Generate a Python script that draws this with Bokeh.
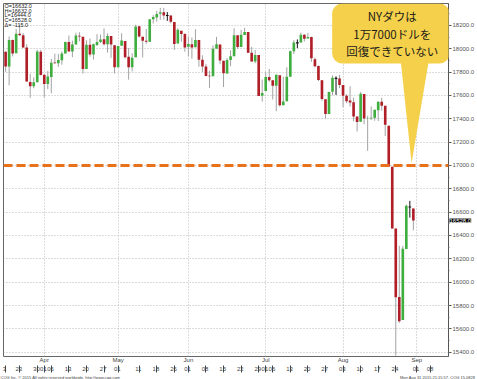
from bokeh.plotting import figure
from bokeh.models import (ColumnDataSource, Range1d, LinearAxis, FixedTicker, Span,
                          BoxAnnotation, PolyAnnotation, Label, NumeralTickFormatter)
from bokeh.core.properties import value
from bokeh.embed import file_html
from bokeh.resources import INLINE

# ---- data: DJIA daily OHLC, 2015 ----
dates = ["03-17","03-18","03-19","03-20","03-23","03-24","03-25","03-26","03-27","03-30","03-31",
         "04-01","04-02","04-06","04-07","04-08","04-09","04-10","04-13","04-14","04-15","04-16","04-17",
         "04-20","04-21","04-22","04-23","04-24","04-27","04-28","04-29","04-30",
         "05-01","05-04","05-05","05-06","05-07","05-08","05-11","05-12","05-13","05-14","05-15",
         "05-18","05-19","05-20","05-21","05-22","05-26","05-27","05-28","05-29",
         "06-01","06-02","06-03","06-04","06-05","06-08","06-09","06-10","06-11","06-12","06-15",
         "06-16","06-17","06-18","06-19","06-22","06-23","06-24","06-25","06-26","06-29","06-30",
         "07-01","07-02","07-06","07-07","07-08","07-09","07-10","07-13","07-14","07-15","07-16",
         "07-17","07-20","07-21","07-22","07-23","07-24","07-27","07-28","07-29","07-30","07-31",
         "08-03","08-04","08-05","08-06","08-07","08-10","08-11","08-12","08-13","08-14","08-17",
         "08-18","08-19","08-20","08-21","08-24","08-25","08-26","08-27","08-28","08-31"]
opens = [17975,17849,18076,17962,18128,18116,18012,17716,17678,17713,17974,
         17777,17698,17759,17882,17875,17902,17959,18058,17977,18037,18112,18102,
         17827,18035,17950,18033,18059,18081,18038,18110,18031,
         17841,18025,18067,17931,17842,17928,18192,18103,18069,18061,18253,
         18267,18300,18314,18285,18286,18229,18045,18154,18127,
         18018,18038,18013,18076,17905,17849,17768,17765,18001,18036,17897,
         17789,17904,17936,18116,18016,18119,18144,17967,17890,17946,17598,
         17638,17758,17730,17684,17774,17516,17550,17761,17978,18051,18053,
         18120,18088,18100,17911,17852,17731,17568,17441,17631,17748,17746,
         17690,17597,17556,17541,17419,17374,17613,17400,17402,17409,17474,
         17545,17511,17340,16990,16459,15872,15676,16285,16644,16632]
highs = [17977,18105,18080,18170,18206,18134,18040,17786,17755,17990,17992,
         17777,17811,17913,17958,17956,17976,18062,18114,18070,18137,18142,18102,
         18073,18088,18044,18125,18122,18175,18133,18110,18031,
         18025,18133,18067,18008,17961,18206,18193,18103,18170,18253,18289,
         18325,18351,18350,18314,18286,18229,18177,18154,18133,
         18105,18097,18168,18076,17944,17870,17811,18030,18102,18036,17897,
         17920,17987,18176,18116,18162,18179,18144,18017,17990,17946,17736,
         17799,17828,17730,17779,17774,17760,17842,17985,18074,18080,18138,
         18124,18137,18104,17925,17858,17731,17568,17633,17772,17763,17777,
         17690,17612,17679,17581,17419,17630,17613,17426,17506,17478,17549,
         17580,17511,17340,16990,16459,16312,16312,16666,16697,16632]
lows = [17802,17687,17934,17962,18111,18008,17716,17579,17662,17713,17771,
        17584,17655,17619,17873,17845,17863,17959,17977,17928,18037,18064,17788,
        17827,17932,17908,18024,18049,18028,17967,17922,17788,
        17841,18025,17916,17735,17806,17928,18096,17925,18042,18061,18216,
        18232,18247,18249,18239,18217,17990,18045,18061,17974,
        17935,17915,18013,17846,17800,17764,17664,17765,18001,17868,17672,
        17785,17852,17936,17999,18016,18119,17964,17890,17876,17596,17547,
        17638,17717,17565,17465,17504,17516,17550,17761,17955,18005,18053,
        18062,18088,17887,17840,17723,17554,17400,17441,17601,17604,17664,
        17500,17534,17505,17379,17291,17374,17353,17125,17390,17383,17381,
        17469,17253,16991,16459,15370,15651,15676,16285,16553,16444]
closes = [17849,18076,17959,18128,18116,18011,17719,17678,17713,17976,17776,
          17698,17763,17881,17875,17903,17959,18058,17977,18037,18113,18106,17826,
          18035,17950,18038,18059,18080,18038,18110,18036,17841,
          18024,18070,17928,17842,17924,18191,18105,18068,18060,18252,18273,
          18299,18312,18285,18286,18232,18042,18163,18126,18011,
          18040,18012,18076,17906,17849,17767,17764,18000,18039,17899,17791,
          17904,17936,18116,18016,18120,18144,17966,17890,17947,17596,17620,
          17758,17730,17684,17777,17515,17549,17760,17978,18054,18050,18120,
          18086,18100,17919,17851,17732,17569,17441,17630,17751,17746,17690,
          17598,17551,17540,17420,17373,17615,17403,17403,17408,17477,17545,
          17511,17349,16991,16460,15871,15666,16286,16655,16643,16528]

# trading calendar (bar positions come from it)
calendar = ["03-16"] + dates + ["09-01", "09-02", "09-03", "09-04", "09-08"]
day_tick_dates = ["03-23","03-30","04-01","04-06","04-13","04-20","04-27","05-01","05-11",
                  "05-18","05-26","06-01","06-08","06-15","06-22","06-29","07-01","07-06",
                  "07-13","07-20","07-27","08-03","08-10","08-17","08-24","09-01","09-08"]
month_tick_dates = ["04-01","05-01","06-01","07-01","08-03","09-01"]
month_labels = ["Apr","May","Jun","Jul","Aug","Sep"]
price_ticks = list(range(15400, 18201, 200))
level = 17000
last_price = 16528.0
info_lines = ["O=16632.0", "H=16632.0", "L=16444.0", "C=16528.0", "Δ= -115.0"]
callout_lines = ["NYダウは", "1万7000ドルを", "回復できていない"]
footer_left = "CQG Inc. © 2015 All rights reserved worldwide. http://www.cqg.com"
footer_right = "Mon Aug 31 2015 21:15:57, CQG 15.0828"

pos = {d: i for i, d in enumerate(calendar)}
xs = [pos[d] for d in dates]
GREEN, RED = "#3fae3f", "#b01f27"
colors = []
wick_colors = []
for o, c in zip(opens, closes):
    if abs(c - o) < 3:
        colors.append("#111111"); wick_colors.append("#111111")
    else:
        colors.append(GREEN if c > o else RED); wick_colors.append("#a3a3a3")
tops = [max(o, c) + (4 if abs(c - o) < 3 else 0) for o, c in zip(opens, closes)]
bots = [min(o, c) - (4 if abs(c - o) < 3 else 0) for o, c in zip(opens, closes)]
src = ColumnDataSource(dict(x=xs, high=highs, low=lows, top=tops, bottom=bots,
                            color=colors, wcolor=wick_colors))

Y_LO, Y_HI = 15363, 18388
p = figure(width=477, height=379, x_range=Range1d(0.4, 127.0), y_range=Range1d(Y_LO, Y_HI),
           y_axis_location="right", x_axis_location=None, output_backend="svg",
           toolbar_location=None, min_border_left=3, min_border_top=3,
           min_border_right=27, min_border_bottom=23, margin=(0, 0, 0, 0),
           background_fill_color="white", border_fill_color="white")
p.outline_line_color = "#666666"

# grids
p.ygrid.ticker = FixedTicker(ticks=price_ticks)
p.ygrid.grid_line_color = "#b8b8b8"
p.ygrid.grid_line_dash = "1 2"
p.xgrid.ticker = FixedTicker(ticks=[pos[d] for d in month_tick_dates])
p.xgrid.grid_line_color = "#b8b8b8"
p.xgrid.grid_line_dash = "1 2"

# right side: tick axis at the frame edge, last-price marker, then price labels
minor = list(range(15400, 18400, 100))
tick_axis = LinearAxis(ticker=FixedTicker(ticks=price_ticks, minor_ticks=minor),
                       major_label_overrides={t: "" for t in price_ticks})
tick_axis.axis_line_color = "#555555"
tick_axis.major_tick_line_color = "#555555"
tick_axis.minor_tick_line_color = "#777777"
tick_axis.major_tick_out = 3
tick_axis.major_tick_in = 0
tick_axis.minor_tick_out = 1
tick_axis.minor_tick_in = 0
tick_axis.major_label_standoff = 0
tick_axis.major_label_text_font_size = "1px"

price_lbl = Label(x=-2, y=last_price, x_units="screen", y_units="data",
                  text="%.1f" % last_price, text_baseline="middle",
                  text_font="Liberation Sans", text_font_size="6px", text_color="white",
                  background_fill_color="black")

ya = p.yaxis[0]
ya.ticker = FixedTicker(ticks=price_ticks, minor_ticks=[])
ya.formatter = NumeralTickFormatter(format="0.0")
ya.major_label_text_font = "Liberation Sans"
ya.major_label_text_font_size = "6px"
ya.major_label_text_color = "#555555"
ya.axis_line_color = None
ya.major_tick_line_color = None
ya.minor_tick_line_color = None
ya.major_tick_out = 0
ya.major_tick_in = 0
ya.minor_tick_out = 0
ya.minor_tick_in = 0
ya.major_label_standoff = -21
p.right = [tick_axis, price_lbl, ya]

# month axis (closest to plot)
ma = LinearAxis(ticker=FixedTicker(ticks=[pos[d] for d in month_tick_dates], minor_ticks=[]),
                major_label_overrides={pos[d]: l for d, l in zip(month_tick_dates, month_labels)})
ma.axis_line_color = None
ma.major_tick_line_color = None
ma.minor_tick_line_color = None
ma.major_tick_out = 0
ma.major_tick_in = 0
ma.major_label_standoff = 0
ma.major_label_text_align = "left"
ma.major_label_text_font = "Liberation Sans"
ma.major_label_text_font_size = "6px"
ma.major_label_text_color = "#444444"

# day axis
day_pos = [0.9] + [pos[d] for d in day_tick_dates]
day_lab = ["3"] + [d[-2:] for d in day_tick_dates]
da = LinearAxis(ticker=FixedTicker(ticks=day_pos, minor_ticks=[]),
                major_label_overrides={k: " " + l for k, l in zip(day_pos, day_lab)})
da.axis_line_color = None
da.major_tick_line_color = "#444444"
da.minor_tick_line_color = None
da.major_tick_out = 7
da.major_tick_in = 0
da.major_label_standoff = -7
da.major_label_text_align = "left"
da.major_label_text_font = "Liberation Sans"
da.major_label_text_font_size = "6px"
da.major_label_text_color = "#444444"

# one footer line: left notice and right timestamp share a single row
footer = Label(x=-3, y=0, x_units="screen", y_units="screen",
               text=footer_left + "\u00a0" * 252 + footer_right,
               text_baseline="bottom", text_font="Liberation Sans", text_font_size="4px",
               text_color="#444444")
p.below = [ma, da, footer]

# candles
p.segment(x0="x", y0="low", x1="x", y1="high", color="wcolor", line_width=1, source=src)
p.vbar(x="x", width=0.75, top="top", bottom="bottom", fill_color="color", line_color=None, source=src)

# 17000 level
p.add_layout(Span(location=level, dimension="width", line_color="#e8711c", line_width=3,
                  line_dash="9 4"))

# callout
p.add_layout(BoxAnnotation(left=93.9, right=127.3, top=Y_HI, bottom=17874, border_radius=10,
                           fill_color="#f5d04a", fill_alpha=1.0, line_color=None))
p.add_layout(PolyAnnotation(xs=[113.4, 121.4, 116.5], ys=[17900, 17900, 17020],
                            fill_color="#f5d04a", fill_alpha=1.0, line_color=None))
for t, yv in zip(callout_lines, [18285, 18130, 17985]):
    p.add_layout(Label(x=111.0, y=yv, text=t, text_align="center", text_baseline="middle",
                       text_font="Noto Sans CJK JP", text_font_size="11.5px", text_color="#1a1a1a"))

# info box (top-left), placed from the top of the price range
for k, t in enumerate(info_lines):
    p.add_layout(Label(x=0.7, y=Y_HI - 22 - 40 * k, text=t,
                       text_baseline="middle", text_font="Liberation Sans",
                       text_font_size="5.5px", text_color="#222222"))

open("out.html", "w").write(file_html(p, INLINE))
